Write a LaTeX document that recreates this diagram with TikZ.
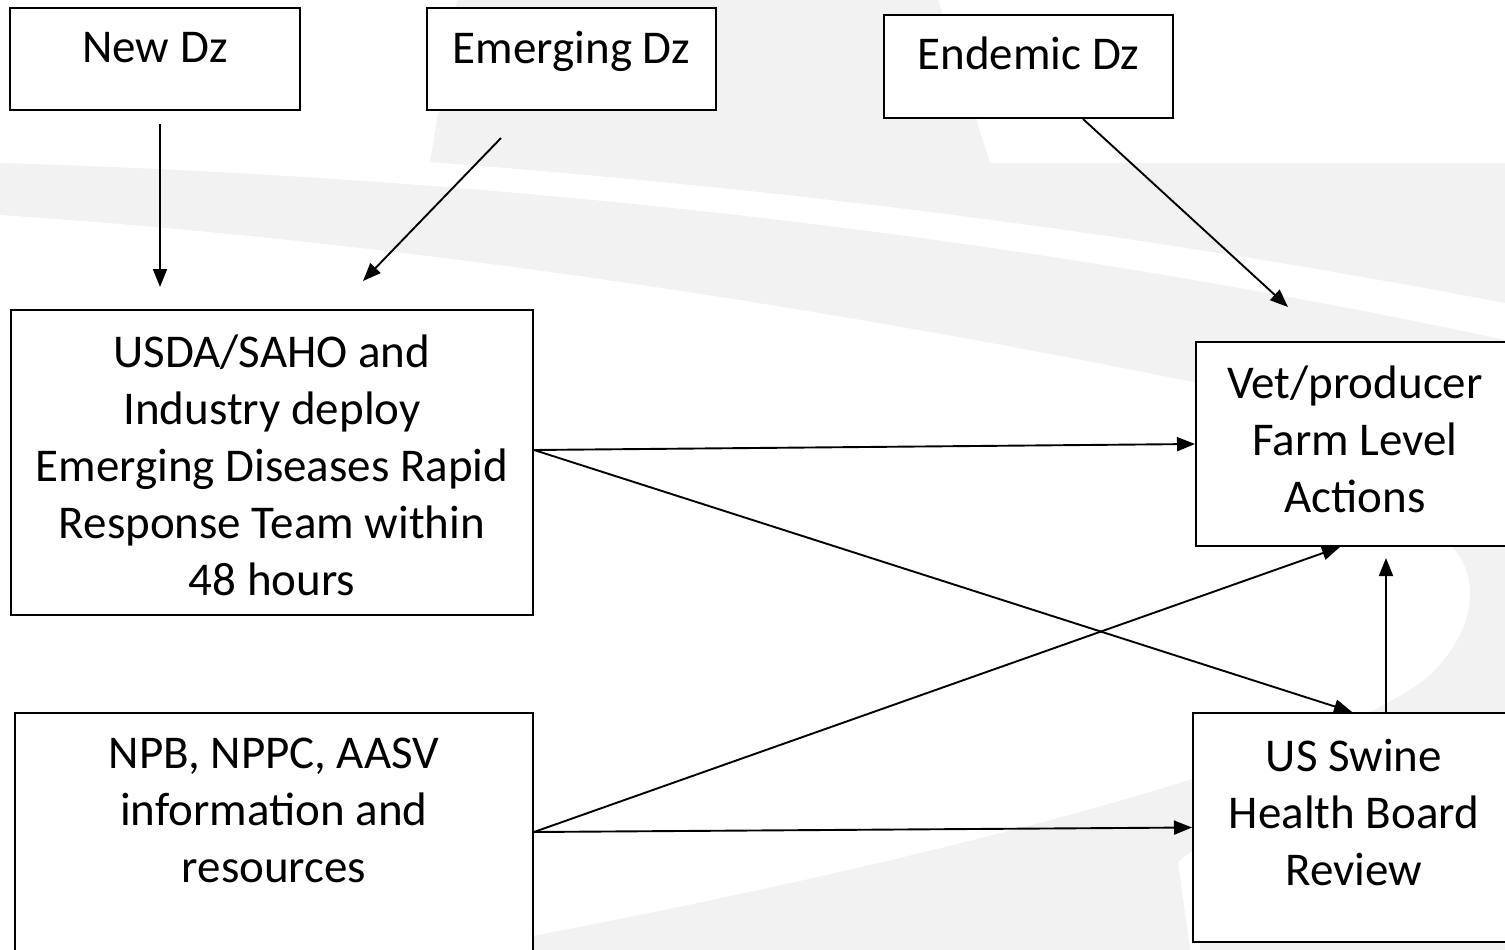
\documentclass[tikz,border=0pt]{standalone}
\usepackage{fontspec}
\setmainfont{Carlito}
\usetikzlibrary{arrows.meta}
\definecolor{bggray}{RGB}{242,242,242}
\begin{document}
\begin{tikzpicture}[x=1pt,y=-1pt,
  box/.style={draw=black, fill=white, line width=2pt, inner sep=0pt},
  txt/.style={align=center, inner sep=0pt, font=\fontsize{47}{57}\selectfont},
  arr/.style={-{Triangle[length=18pt,width=14pt]}, line width=1.9pt}]
\useasboundingbox (0,0) rectangle (1505,950);
% background swooshes
\fill[white] (0,0) rectangle (1505,950);
\fill[bggray] (0,163) .. controls (500,178) and (1000,232) .. (1505,340) -- (1505,955) -- (0,955) -- cycle;
\fill[white] (0,215) .. controls (450,245) and (900,320) .. (1280,400) -- (1440,500) -- (1452,547)
  .. controls (1478,575) and (1480,625) .. (1430,675)
  .. controls (1330,760) and (900,870) .. (430,955) -- (0,955) -- cycle;
\fill[white] (1178,862) -- (1200,845) -- (1200,955) -- (1191,955) -- cycle;
\fill[bggray] (457,0) -- (938,0) -- (990,163) -- (1505,163) -- (1505,303)
  .. controls (1150,235) and (800,190) .. (430,162) -- cycle;
% boxes
\node[box, minimum width=290pt, minimum height=102pt] (newdz) at (155,59) {};
\node[box, minimum width=289pt, minimum height=102pt] (emerg) at (571.5,59) {};
\node[box, minimum width=289pt, minimum height=103pt] (endem) at (1028.5,66.5) {};
\node[box, minimum width=522pt, minimum height=305pt] (usda) at (272,462.5) {};
\node[box, minimum width=318pt, minimum height=204pt] (vet) at (1355,444) {};
\node[box, minimum width=518pt, minimum height=252pt] (npb) at (274,839) {};
\node[box, minimum width=322pt, minimum height=229pt] (swine) at (1354,827.5) {};
% texts
\node[txt] (newdzT) at (155,51.6) {\strut New Dz};
\node[txt] (emergT) at (571.5,52.6) {\strut Emerging Dz};
\node[txt] (endemT) at (1028.5,58.6) {\strut Endemic Dz};
\node[txt] (usdaT) at (272,469.6) {\strut USDA/SAHO and\\\strut Industry deploy\\\strut Emerging Diseases Rapid\\\strut Response Team within\\\strut 48 hours};
\node[txt] (vetT) at (1355,443.6) {\strut Vet/producer\\\strut Farm Level\\\strut Actions};
\node[txt] (npbT) at (274,813.6) {\strut NPB, NPPC, AASV\\\strut information and\\\strut resources};
\node[txt] (swineT) at (1354,816.6) {\strut US Swine\\\strut Health Board\\\strut Review};
% connectors
\draw[arr] ([xshift=5pt,yshift=-13pt]newdz.south) -- ([xshift=-112pt,yshift=22pt]usda.north);
\draw[arr] ([xshift=-70.5pt,yshift=-27pt]emerg.south) -- ([xshift=91pt,yshift=28pt]usda.north);
\draw[arr] ([xshift=54.5pt]endem.south) -- ([xshift=-67pt,yshift=34pt]vet.north);
\draw[arr] ([yshift=12.5pt]usda.east) -- (vet.west);
\draw[arr] ([yshift=12.5pt]usda.east) -- ([xshift=-2pt]swine.north);
\draw[arr] ([yshift=7pt]npb.east) -- ([xshift=-15pt]vet.south);
\draw[arr] ([yshift=7pt]npb.east) -- (swine.west);
\draw[arr] ([xshift=32pt]swine.north) -- ([xshift=31pt,yshift=-11pt]vet.south);
\end{tikzpicture}
\end{document}
